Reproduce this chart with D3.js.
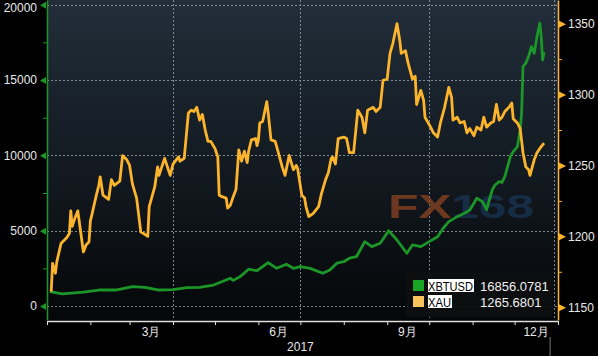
<!DOCTYPE html>
<html>
<head>
<meta charset="utf-8">
<script src="https://cdn.jsdelivr.net/npm/d3@7"></script>
<style>
  body { margin: 0; background: #000; }
  svg { display: block; }
  text { font-family: "Liberation Sans", Arial, sans-serif; }
</style>
</head>
<body>
<div id="chart"></div>
<script>
// gold (XAU), right axis
const goldDates = ["01-04","01-05","01-07","01-08","01-11","01-15","01-17","01-18","01-19","01-21","01-23","01-27","01-29","01-31",
  "02-01","02-02","02-05","02-07","02-08","02-10","02-14","02-16","02-18","02-22","02-24","02-27",
  "03-01","03-03","03-06","03-09","03-11","03-14","03-15","03-19","03-21","03-22","03-26","03-28","03-30",
  "04-01","04-05","04-06","04-09","04-12","04-14","04-16","04-18","04-20","04-22","04-24","04-26","04-28",
  "05-01","05-03","05-04","05-06","05-09","05-10","05-12","05-14","05-16","05-18","05-20","05-22","05-24","05-25","05-27","05-30","05-31",
  "06-01","06-02","06-04","06-07","06-08","06-10","06-13","06-15","06-18","06-20","06-23","06-26","06-28","06-29",
  "07-02","07-04","07-05","07-07","07-10","07-14","07-16","07-19","07-21","07-23","07-24","07-26","07-28",
  "08-01","08-03","08-05","08-08","08-11","08-14","08-16","08-18","08-22","08-24","08-27","08-29",
  "09-01","09-03","09-05","09-08","09-10","09-11","09-14","09-16","09-19","09-21","09-22","09-25","09-27","09-28",
  "10-02","10-04","10-07","10-09","10-12","10-15","10-17","10-18","10-21","10-23","10-26","10-28","10-30",
  "11-02","11-04","11-07","11-09","11-11","11-14","11-16","11-18","11-20","11-22","11-24","11-27","11-29","11-30",
  "12-03","12-05","12-07","12-09","12-11","12-12","12-15","12-17","12-19","12-22"];
const goldValues = [1161,1181,1174,1182,1195,1199,1202,1218,1207,1213,1218,1189,1194,1196,
  1211,1215,1228,1236,1242,1229,1226,1240,1236,1239,1257,1254,
  1250,1237,1227,1203,1202,1200,1221,1235,1249,1243,1255,1249,1243,
  1251,1256,1253,1255,1287,1289,1288,1291,1282,1286,1275,1267,1267,
  1262,1256,1229,1228,1227,1220,1222,1228,1233,1261,1253,1260,1252,1260,1268,1269,1264,
  1268,1280,1281,1295,1287,1268,1267,1260,1249,1243,1257,1247,1250,1248,
  1229,1227,1221,1214,1216,1221,1230,1240,1245,1255,1256,1251,1269,
  1270,1269,1259,1259,1289,1284,1273,1289,1291,1288,1291,1310,
  1311,1329,1336,1350,1338,1329,1331,1322,1311,1313,1293,1303,1296,1284,
  1277,1273,1270,1280,1291,1305,1298,1282,1284,1280,1281,1273,1276,
  1271,1277,1275,1284,1277,1280,1281,1293,1282,1284,1288,1291,1294,1283,
  1280,1276,1259,1249,1247,1243,1254,1259,1262,1265.68];

// bitcoin (XBTUSD), left axis
const btcDates = ["01-03","01-12","01-27","02-07","02-19","03-03","03-12","03-22","04-01","04-11","04-20","04-30",
  "05-12","05-14","05-19","05-25","05-31","06-08","06-14","06-21","06-26","07-01","07-08","07-17","07-22","07-27",
  "08-01","08-05","08-10","08-16","08-21","08-27","09-02","09-08","09-15","09-19","09-25",
  "10-01","10-07","10-11","10-15","10-21","10-26","10-30","11-04","11-08","11-11","11-15","11-17","11-20","11-22","11-24","11-28","11-30",
  "12-03","12-05","12-06","12-07","12-09","12-11","12-13","12-15","12-17","12-19","12-20","12-21","12-22"];
const btcValues = [950,800,920,1060,1060,1280,1240,1060,1080,1220,1230,1390,
  1840,1700,1950,2440,2340,2880,2500,2770,2500,2610,2500,2170,2390,2840,
  2940,3170,3270,4270,3940,4160,5000,4380,3500,4050,3940,
  4270,4600,5160,5600,5930,6150,6370,7150,6930,6400,7700,8030,8250,8200,8590,9910,10250,
  10580,11690,12800,15890,16120,16560,17220,16780,17880,18770,17880,16330,16856.0781];

const leftTicks = [0, 5000, 10000, 15000, 20000];
const leftMinor = [2500, 7500, 12500, 17500];
const rightTicks = [1150, 1200, 1250, 1300, 1350];
const rightMinor = [1175, 1225, 1275, 1325];
const monthLabels = ["3月", "6月", "9月", "12月"];
const monthLabelDates = ["2017-03-16", "2017-06-15", "2017-09-15", "2017-12-16"];
const gridDates = ["2017-04-01", "2017-07-01", "2017-10-01", "2017-12-29"];
const yearLabel = "2017";
const legendNames = ["XBTUSD", "XAU"];
const legendValues = ["16856.0781", "1265.6801"];

const W = 598, H = 356;
const plot = {left: 47, right: 558, top: 0, bottom: 320};
const GOLD = "#fcb42c", GREEN = "#1c9628";

const parse = d3.timeParse("%Y-%m-%d");
const gold = goldDates.map((d, i) => ({date: parse("2017-" + d), value: goldValues[i]}));
const btc = btcDates.map((d, i) => ({date: parse("2017-" + d), value: btcValues[i]}));

const x = d3.scaleTime()
    .domain([parse("2017-01-01"), parse("2018-01-01")])
    .range([plot.left, plot.right]);
const yL = d3.scaleLinear().domain([-930, 20312]).range([plot.bottom, plot.top]);
const yR = d3.scaleLinear().domain([1141, 1366.7]).range([plot.bottom, plot.top]);

const svg = d3.select("#chart").append("svg").attr("width", W).attr("height", H);
svg.append("rect").attr("width", W).attr("height", H).attr("fill", "#000");

const defs = svg.append("defs");
const grad = defs.append("linearGradient").attr("id", "bg").attr("x1", 0).attr("y1", 0).attr("x2", 0).attr("y2", 1);
grad.append("stop").attr("offset", "0%").attr("stop-color", "#222e3a");
grad.append("stop").attr("offset", "55%").attr("stop-color", "#121920");
grad.append("stop").attr("offset", "100%").attr("stop-color", "#050708");

svg.append("rect")
    .attr("x", plot.left).attr("y", plot.top)
    .attr("width", plot.right - plot.left).attr("height", plot.bottom - plot.top)
    .attr("fill", "url(#bg)");

// gridlines
const grid = svg.append("g").attr("stroke", "#9aa3aa").attr("stroke-width", 1)
    .attr("stroke-dasharray", "2,2").attr("opacity", 0.8);
grid.selectAll(".h").data(leftTicks).join("line")
    .attr("x1", plot.left).attr("x2", plot.right)
    .attr("y1", d => Math.round(yL(d)) + 0.5).attr("y2", d => Math.round(yL(d)) + 0.5);
grid.selectAll(".v").data(gridDates.map(parse)).join("line")
    .attr("x1", d => Math.round(x(d)) + 0.5).attr("x2", d => Math.round(x(d)) + 0.5)
    .attr("y1", plot.top).attr("y2", plot.bottom);

// watermark
const wm = svg.append("text")
    .attr("x", 388).attr("y", 218)
    .attr("font-family", "DejaVu Sans, sans-serif")
    .attr("font-weight", "bold").attr("font-size", 33)
    .attr("textLength", 146).attr("lengthAdjust", "spacingAndGlyphs")
    .attr("opacity", 0.75);
wm.append("tspan").attr("fill", "#8c4421").text("FX");
wm.append("tspan").attr("fill", "#183553").text("168");

// lines
const lineL = d3.line().x(d => x(d.date)).y(d => yL(d.value));
const lineR = d3.line().x(d => x(d.date)).y(d => yR(d.value));

svg.append("path").datum(btc)
    .attr("fill", "none").attr("stroke", GREEN).attr("stroke-width", 2.8)
    .attr("stroke-linejoin", "round").attr("d", lineL);
svg.append("path").datum(gold)
    .attr("fill", "none").attr("stroke", GOLD).attr("stroke-width", 2.8)
    .attr("stroke-linejoin", "round").attr("d", lineR);

// left axis
const axL = svg.append("g").attr("transform", `translate(${plot.left},0)`)
    .call(d3.axisLeft(yL).tickValues(leftTicks).tickSize(0).tickPadding(10).tickFormat(d3.format("d")));
axL.select(".domain").attr("stroke", GREEN).attr("stroke-width", 1.5);
axL.selectAll("text").attr("fill", "#e8e8e8").attr("font-size", 12)
    .attr("font-family", "Liberation Sans, Arial, sans-serif")
    .attr("dy", d => d === 20000 ? "0.6em" : "0.32em");
axL.selectAll(".tick").append("path").attr("d", "M-1,-3.5L-1,3.5L-7,0Z").attr("fill", GREEN);
const axLm = svg.append("g").attr("transform", `translate(${plot.left},0)`)
    .call(d3.axisLeft(yL).tickValues(leftMinor).tickSize(4).tickFormat(""));
axLm.select(".domain").remove();
axLm.selectAll("line").attr("stroke", GREEN);

// right axis
const axR = svg.append("g").attr("transform", `translate(${plot.right},0)`)
    .call(d3.axisRight(yR).tickValues(rightTicks).tickSize(0).tickPadding(10).tickFormat(d3.format("d")));
axR.select(".domain").attr("stroke", GOLD).attr("stroke-width", 1.5);
axR.selectAll("text").attr("fill", "#e8e8e8").attr("font-size", 12)
    .attr("font-family", "Liberation Sans, Arial, sans-serif");
axR.selectAll(".tick").append("path").attr("d", "M1,-3.5L1,3.5L8,0Z").attr("fill", GOLD);
const axRm = svg.append("g").attr("transform", `translate(${plot.right},0)`)
    .call(d3.axisRight(yR).tickValues(rightMinor).tickSize(4).tickFormat(""));
axRm.select(".domain").remove();
axRm.selectAll("line").attr("stroke", GOLD);

// bottom axis
const axB = svg.append("g").attr("transform", `translate(0,${plot.bottom + 1})`)
    .call(d3.axisBottom(x).ticks(d3.timeMonth.every(1)).tickSize(4).tickFormat("").tickSizeOuter(0));
axB.select(".domain").attr("stroke", "#e0e0e0").attr("stroke-width", 1.5);
axB.selectAll("line").attr("stroke", "#e0e0e0");

const axBl = svg.append("g").attr("transform", `translate(0,${plot.bottom + 1})`)
    .call(d3.axisBottom(x).tickValues(monthLabelDates.map(parse)).tickSize(0).tickPadding(6)
        .tickFormat((d, i) => monthLabels[i]));
axBl.select(".domain").remove();
axBl.selectAll("text").attr("fill", "#e8e8e8").attr("font-size", 12)
    .attr("font-family", "Liberation Sans, Noto Sans CJK SC, sans-serif");

svg.append("text").attr("x", x(parse("2017-07-01"))).attr("y", 351)
    .attr("text-anchor", "middle").attr("fill", "#e8e8e8").attr("font-size", 12)
    .text(yearLabel);
svg.append("line")
    .attr("x1", x(parse("2017-12-26")) + 0.5).attr("x2", x(parse("2017-12-26")) + 0.5)
    .attr("y1", 337).attr("y2", H).attr("stroke", "#777").attr("stroke-width", 1);

// legend
const lg = svg.append("g").attr("transform", "translate(406,272)");
lg.append("rect").attr("width", 147).attr("height", 45).attr("fill", "#0e0f10").attr("opacity", 0.92);
const rows = lg.selectAll(".row").data(legendNames).join("g")
    .attr("transform", (d, i) => `translate(0,${8 + i * 16})`);
rows.append("rect").attr("x", 7).attr("y", 0).attr("width", 11).attr("height", 11)
    .attr("fill", (d, i) => i === 0 ? "#18a526" : "#f8c35a");
const hl = rows.append("rect").attr("x", 22).attr("y", -1).attr("height", 13).attr("fill", "#fff");
const names = rows.append("text").attr("x", 22).attr("y", 10.5).attr("font-size", 12.5).attr("fill", "#000")
    .attr("textLength", (d, i) => i === 0 ? 45 : 23).attr("lengthAdjust", "spacingAndGlyphs")
    .text(d => d);
hl.attr("width", (d, i) => i === 0 ? 46 : 24);
rows.append("text").attr("x", 74).attr("y", 10.5).attr("font-size", 13).attr("fill", "#f0f0f0")
    .text((d, i) => legendValues[i]);
</script>
</body>
</html>
